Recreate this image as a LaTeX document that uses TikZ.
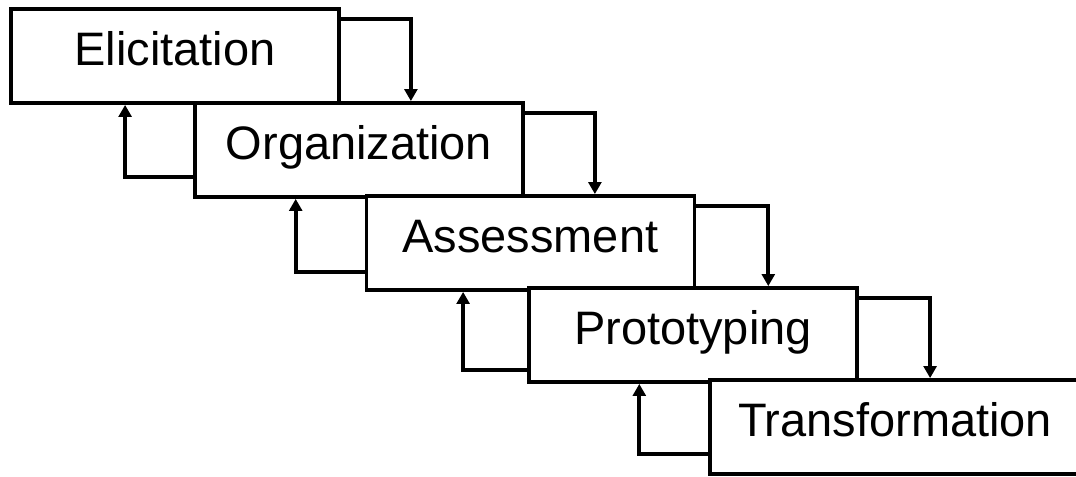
\documentclass[tikz,border=0pt]{standalone}
\usepackage{fontspec}
\setmainfont{Liberation Sans}
\usetikzlibrary{arrows.meta}
\tikzset{every picture/.style={line width=2.7pt}}
\tikzset{
  phase/.style={draw, fill=white, rectangle, inner sep=0pt,
    minimum width=8.2cm, minimum height=2.35cm,
    text height=0.84cm, text depth=0.37cm,
    font=\fontsize{33.4}{40}\selectfont},
  flow/.style={-{Triangle[length=0.3cm,width=0.32cm]}}
}

\begin{document}
\begin{tikzpicture}
\useasboundingbox (0,0) rectangle (26.9,-11.925);
\node[phase] (elic) at (4.375,-1.4) {Elicitation};
\node[phase] (org) at (8.975,-3.75) {Organization};
\node[phase] (assess) at (13.26,-6.075) {Assessment};
\node[phase] (proto) at (17.325,-8.375) {Prototyping};
\node[phase, minimum width=9.25cm] (trans) at (22.375,-10.675) {Transformation};
%
\draw[flow] ([yshift=-0.3cm]elic.north east) -| ([xshift=1.75cm]elic.east |- org.north);
\draw[flow] ([yshift=-0.3cm]org.north east) -| ([xshift=1.75cm]org.east |- assess.north);
\draw[flow] ([yshift=-0.3cm]assess.north east) -| ([xshift=1.8cm]assess.east |- proto.north);
\draw[flow] ([yshift=-0.3cm]proto.north east) -| ([xshift=1.78cm]proto.east |- trans.north);
%
\draw[flow] ([yshift=0.55cm]org.south west) -| ([xshift=-1.7cm]org.west |- elic.south);
\draw[flow] ([yshift=0.5cm]assess.south west) -| ([xshift=-1.72cm]assess.west |- org.south);
\draw[flow] ([yshift=0.35cm]proto.south west) -| ([xshift=-1.6cm]proto.west |- assess.south);
\draw[flow] ([yshift=0.55cm]trans.south west) -| ([xshift=-1.72cm]trans.west |- proto.south);
\end{tikzpicture}
\end{document}
